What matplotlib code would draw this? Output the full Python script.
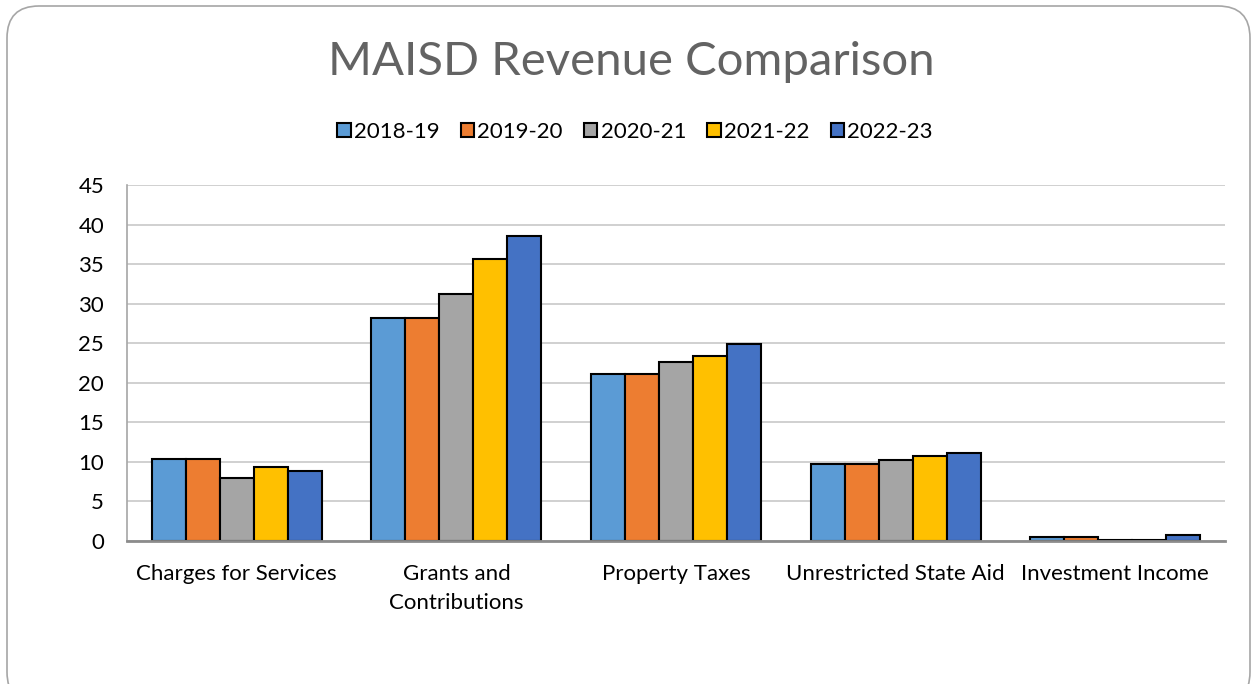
import matplotlib
matplotlib.use("Agg")
import matplotlib.pyplot as plt
import numpy as np
from matplotlib.patches import FancyBboxPatch
from matplotlib.transforms import IdentityTransform

categories = ["Charges for Services", "Grants and\nContributions", "Property Taxes",
              "Unrestricted State Aid", "Investment Income"]
years = ["2018-19", "2019-20", "2020-21", "2021-22", "2022-23"]
v2018 = [10.4, 28.2, 21.1, 9.7, 0.45]
v2019 = [10.4, 28.2, 21.1, 9.7, 0.45]
v2020 = [8.0, 31.2, 22.6, 10.2, 0.1]
v2021 = [9.4, 35.6, 23.4, 10.7, 0.1]
v2022 = [8.9, 38.6, 24.9, 11.1, 0.7]
series = [v2018, v2019, v2020, v2021, v2022]
colors = ["#5B9BD5", "#ED7D31", "#A5A5A5", "#FFC000", "#4472C4"]
yticks = [0, 5, 10, 15, 20, 25, 30, 35, 40, 45]

plt.rcParams['font.family'] = ['Lato', 'DejaVu Sans']

W, H = 1252, 684
fig = plt.figure(figsize=(W/100, H/100), dpi=100)

# rounded frame
frame = FancyBboxPatch((7, -20), 1243, H - 6 + 20,
                       boxstyle="round,pad=0,rounding_size=32",
                       transform=IdentityTransform(), fill=False,
                       edgecolor="#A6A6A6", linewidth=1.2)
fig.patches.append(frame)

ax = fig.add_axes([127/W, 143/H, 1098/W, 356/H])
x = np.arange(len(categories))
bw = 34/219.6
for i, (vals, c, lab) in enumerate(zip(series, colors, years)):
    ax.bar(x + (i - 2) * bw, vals, bw, color=c, edgecolor="black",
           linewidth=1.5, label=lab, zorder=3)

ax.set_xlim(-0.5, len(categories) - 0.5)
ax.set_ylim(0, 45)
ax.set_yticks(yticks)
ax.set_yticklabels([str(t) for t in yticks], fontsize=16, color="black")
ax.set_xticks(x)
ax.set_xticklabels(categories, fontsize=16, color="black", linespacing=1.55)
ax.tick_params(axis="both", length=0)
ax.tick_params(axis="y", pad=16.5)
ax.tick_params(axis="x", pad=16.5)
ax.grid(axis="y", color="#C8C8C8", linewidth=1.2, zorder=0)
for s in ["top", "right"]:
    ax.spines[s].set_visible(False)
ax.spines["left"].set_color("#A6A6A6")
ax.spines["left"].set_linewidth(1.2)
ax.spines["bottom"].set_color("#8C8C8C")
ax.spines["bottom"].set_linewidth(2)
ax.spines["bottom"].set_zorder(4)

fig.text(631/W, 1 - 62/H, "MAISD Revenue Comparison", ha="center", va="center",
         fontsize=34, color="#636363")

leg = fig.legend(loc="center", bbox_to_anchor=(635/W, 1 - 132/H), ncol=5,
                 frameon=False, fontsize=16, handlelength=0.6, handleheight=0.6,
                 handletextpad=0.15, columnspacing=0.95)

fig.savefig("out.png", dpi=100)
